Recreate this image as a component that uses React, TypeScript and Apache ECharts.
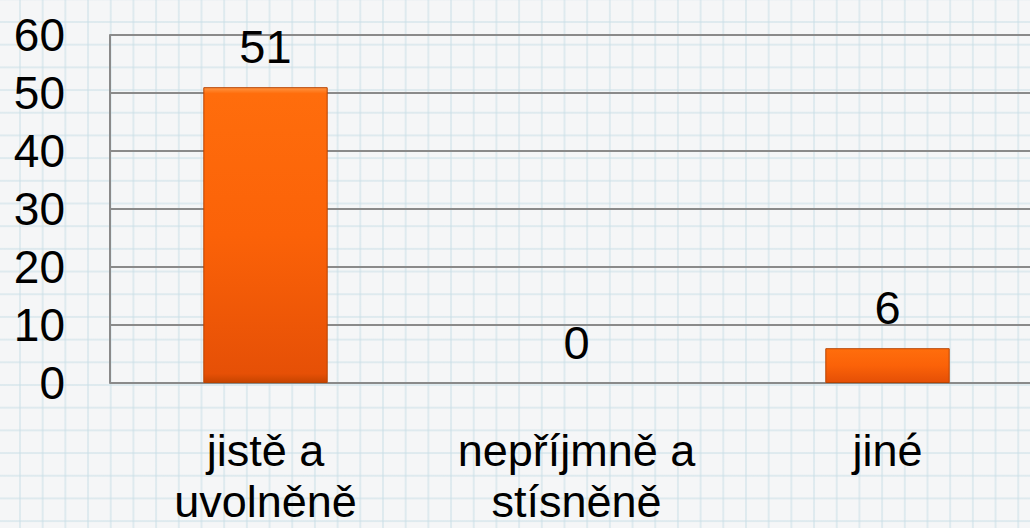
import React, { useEffect, useRef } from "react";
import * as echarts from "echarts";

const categories = ["jistě a\nuvolněně", "nepříjmně a\nstísněně", "jiné"];
const values = [51, 0, 6];
const yTicks = { min: 0, max: 60, interval: 10 };

export default function App() {
  const ref = useRef<HTMLDivElement>(null);
  useEffect(() => {
    if (!ref.current) return;
    const chart = echarts.init(ref.current, null, { renderer: "svg" });
    const font = "'Liberation Sans', Arial, sans-serif";
    chart.setOption({
      animation: false,
      backgroundColor: "transparent",
      grid: {
        left: 110,
        width: 933,
        top: 35,
        bottom: 145,
        containLabel: false,
        outerBoundsMode: "none",
      },
      xAxis: {
        type: "category",
        data: categories,
        axisLine: { show: false },
        axisTick: { show: false },
        axisLabel: {
          color: "#000",
          fontFamily: font,
          fontSize: 45,
          lineHeight: 51,
          margin: 42,
          interval: 0,
        },
      },
      yAxis: {
        type: "value",
        min: yTicks.min,
        max: yTicks.max,
        interval: yTicks.interval,
        axisLine: { show: true, lineStyle: { color: "#8a8a8a", width: 2 } },
        axisTick: { show: false },
        axisLabel: {
          color: "#000",
          fontFamily: font,
          fontSize: 46,
          margin: 45,
        },
        splitLine: { show: true, lineStyle: { color: "#8a8a8a", width: 2 } },
      },
      series: [
        {
          type: "bar",
          data: values.map((v) => ({
            value: v,
            itemStyle: v === 0 ? { borderWidth: 0, opacity: 0 } : undefined,
            label: v === 0 ? { opacity: 1 } : undefined,
          })),
          barWidth: "40%",
          itemStyle: {
            color: new echarts.graphic.LinearGradient(0, 0, 0, 1, [
              { offset: 0, color: "#ff9440" },
              { offset: 0.02, color: "#ff6d0c" },
              { offset: 0.5, color: "#fb6208" },
              { offset: 0.97, color: "#e65006" },
              { offset: 1, color: "#c84400" },
            ]),
            borderColor: "#b84300",
            borderWidth: 1,
          },
          label: {
            show: true,
            position: "top",
            distance: 17,
            color: "#000",
            fontFamily: font,
            fontSize: 47,
          },
        },
      ],
    });
    return () => chart.dispose();
  }, []);
  return (
    <div
      ref={ref}
      style={{
        position: "fixed",
        left: 0,
        top: 0,
        width: 1030,
        height: 528,
        backgroundColor: "#f5f6f7",
        backgroundImage:
          "linear-gradient(to right, rgba(200,222,230,0.5) 2px, transparent 2px), linear-gradient(to bottom, rgba(200,222,230,0.5) 2px, transparent 2px)",
        backgroundSize: "22.7px 22.7px",
        backgroundPosition: "19px 21px",
      }}
    />
  );
}
